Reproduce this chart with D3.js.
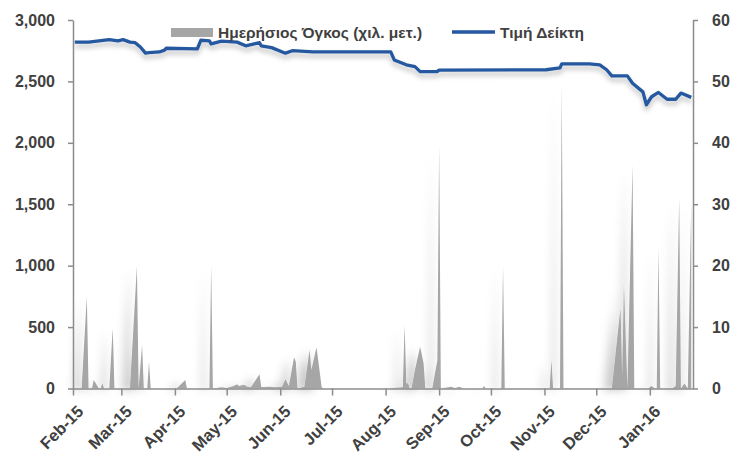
<!DOCTYPE html>
<html>
<head>
<meta charset="utf-8">
<script src="https://cdn.jsdelivr.net/npm/d3@7"></script>
<style>
  body { margin: 0; background: #fff; }
  text { font-family: "Liberation Sans", Arial, sans-serif; font-weight: 700; fill: #404040; }
</style>
</head>
<body>
<div id="vis"></div>
<script>
// Frame and margins
const FRAME_WIDTH = 734;
const FRAME_HEIGHT = 457;
const MARGINS = {left: 73, right: 41, top: 20, bottom: 68.5};
const VIS_WIDTH = FRAME_WIDTH - MARGINS.left - MARGINS.right;
const VIS_HEIGHT = FRAME_HEIGHT - MARGINS.top - MARGINS.bottom;

// Daily volume (thousand shares) - left axis
const VOL_DATES = ["2015-02-02","2015-02-06","2015-02-09","2015-02-10","2015-02-12","2015-02-13","2015-02-16",
  "2015-02-17","2015-02-18","2015-02-19","2015-02-22","2015-02-24","2015-02-25","2015-03-06","2015-03-10",
  "2015-03-11","2015-03-13","2015-03-14","2015-03-16","2015-03-17","2015-03-18","2015-04-02","2015-04-07",
  "2015-04-08","2015-04-21","2015-04-22","2015-04-23","2015-04-28","2015-05-01","2015-05-05","2015-05-07",
  "2015-05-08","2015-05-11","2015-05-13","2015-05-15","2015-05-20","2015-05-21","2015-05-22","2015-05-26",
  "2015-05-29","2015-06-02","2015-06-04","2015-06-06","2015-06-09","2015-06-10","2015-06-11","2015-06-15",
  "2015-06-18","2015-06-19","2015-06-22","2015-06-25","2015-06-26","2015-08-03","2015-08-05","2015-08-09",
  "2015-08-11","2015-08-12","2015-08-13","2015-08-14","2015-08-15","2015-08-16","2015-08-18","2015-08-21",
  "2015-08-23","2015-08-24","2015-08-28","2015-08-31","2015-09-01","2015-09-02","2015-09-08","2015-09-10",
  "2015-09-13","2015-09-15","2015-09-26","2015-09-27","2015-09-28","2015-10-07","2015-10-08","2015-10-09",
  "2015-11-04","2015-11-05","2015-11-06","2015-11-10","2015-11-11","2015-11-12","2015-12-10","2015-12-15",
  "2015-12-16","2015-12-17","2015-12-19","2015-12-22","2015-12-23","2015-12-31","2016-01-02","2016-01-04",
  "2016-01-05","2016-01-06","2016-01-07","2016-01-14","2016-01-16","2016-01-18","2016-01-19","2016-01-21",
  "2016-01-23","2016-01-25"];
const VOL_VALUES = [0,0,750,0,0,70,0,
  0,42,0,0,490,0,0,995,
  0,355,0,0,218,0,0,70,
  0,0,1000,0,10,5,20,35,
  20,30,15,10,115,10,12,15,
  10,15,75,20,254,218,0,15,
  315,150,335,10,0,0,5,8,
  10,517,40,42,0,0,150,340,
  205,0,0,232,1985,0,15,5,
  15,0,0,20,0,0,995,0,
  0,232,0,0,2470,0,0,653,
  100,857,0,1822,0,0,20,0,
  0,1142,0,0,20,1550,0,40,
  0,1510];

// Index price - right axis
const IDX_DATES = ["2015-02-02","2015-02-10","2015-02-16","2015-02-22","2015-02-27","2015-03-02","2015-03-06",
  "2015-03-09","2015-03-12","2015-03-15","2015-03-17","2015-03-23","2015-03-26","2015-03-27","2015-04-14",
  "2015-04-16","2015-04-21","2015-04-22","2015-04-28","2015-05-07","2015-05-12","2015-05-20","2015-05-21",
  "2015-05-27","2015-06-04","2015-06-08","2015-06-20","2015-08-01","2015-08-04","2015-08-06","2015-08-13",
  "2015-08-18","2015-08-21","2015-08-31","2015-09-01","2015-11-02","2015-11-10","2015-11-11","2015-11-27",
  "2015-12-03","2015-12-07","2015-12-10","2015-12-19","2015-12-22","2015-12-28","2015-12-30","2016-01-02",
  "2016-01-06","2016-01-11","2016-01-16","2016-01-19","2016-01-25"];
const IDX_VALUES = [56.4,56.4,56.6,56.8,56.6,56.8,56.4,
  56.3,55.6,54.6,54.7,54.8,55.1,55.4,55.3,
  56.7,56.6,56.1,56.55,56.4,55.8,56.3,55.8,
  55.5,54.6,55.0,54.8,54.8,54.8,53.5,52.7,
  52.4,51.6,51.6,51.85,51.9,52.2,52.85,52.85,
  52.7,51.9,50.9,50.9,49.7,48.3,46.2,47.5,
  48.2,47.1,47.1,48.1,47.4];

// Axis ticks and labels
const MONTH_TICKS = ["2015-02-01","2015-03-01","2015-04-01","2015-05-01","2015-06-01","2015-07-01",
  "2015-08-01","2015-09-01","2015-10-01","2015-11-01","2015-12-01","2016-01-01"];
const LEFT_TICKS = [0, 500, 1000, 1500, 2000, 2500, 3000];
const RIGHT_TICKS = [0, 10, 20, 30, 40, 50, 60];
const LEGEND_LABELS = ["Ημερήσιος Όγκος (χιλ. μετ.)", "Τιμή Δείκτη"];

const parseDate = d3.timeParse("%Y-%m-%d");
const volData = VOL_DATES.map((d, i) => ({date: parseDate(d), value: VOL_VALUES[i]}));
const idxData = IDX_DATES.map((d, i) => ({date: parseDate(d), value: IDX_VALUES[i]}));

const FRAME = d3.select("#vis")
  .append("svg")
    .attr("width", FRAME_WIDTH)
    .attr("height", FRAME_HEIGHT);

// Shadow filters (Excel-like soft shadows)
const defs = FRAME.append("defs");
defs.append("filter").attr("id", "areaShadow")
    .attr("x", "-50%").attr("y", "-10%").attr("width", "200%").attr("height", "120%")
  .append("feDropShadow")
    .attr("dx", -8).attr("dy", 2).attr("stdDeviation", 4)
    .attr("flood-color", "#000").attr("flood-opacity", 0.2);
defs.append("filter").attr("id", "lineShadow")
    .attr("x", "-5%").attr("y", "-50%").attr("width", "110%").attr("height", "200%")
  .append("feDropShadow")
    .attr("dx", 0).attr("dy", 4).attr("stdDeviation", 2.5)
    .attr("flood-color", "#000").attr("flood-opacity", 0.25);

// Scales
const X_SCALE = d3.scaleTime()
  .domain([parseDate("2015-02-01"), parseDate("2016-01-26")])
  .range([0, VIS_WIDTH]);
const Y_LEFT = d3.scaleLinear().domain([0, 3000]).range([VIS_HEIGHT, 0]);
const Y_RIGHT = d3.scaleLinear().domain([0, 60]).range([VIS_HEIGHT, 0]);

const G = FRAME.append("g")
  .attr("transform", "translate(" + MARGINS.left + "," + MARGINS.top + ")");

// Volume area
const area = d3.area()
  .x((d) => X_SCALE(d.date))
  .y0(VIS_HEIGHT)
  .y1((d) => Y_LEFT(d.value));
G.append("path")
  .datum(volData)
  .attr("d", area)
  .attr("fill", "#a6a6a6")
  .attr("filter", "url(#areaShadow)");

// Index line
const line = d3.line()
  .x((d) => X_SCALE(d.date))
  .y((d) => Y_RIGHT(d.value));
G.append("path")
  .datum(idxData)
  .attr("d", line)
  .attr("fill", "none")
  .attr("stroke", "#2558a0")
  .attr("stroke-width", 3.3)
  .attr("stroke-linejoin", "round")
  .attr("filter", "url(#lineShadow)");

// Axes
const AXIS_COLOR = "#8c8c8c";
function styleAxis(g, size) {
  g.selectAll(".domain").attr("stroke", AXIS_COLOR).attr("stroke-width", 1.5);
  g.selectAll(".tick line").attr("stroke", AXIS_COLOR).attr("stroke-width", 1.5);
  g.selectAll(".tick text").attr("fill", "#404040")
    .style("font-family", "'Liberation Sans', Arial, sans-serif")
    .style("font-weight", "700").style("font-size", size + "px");
}

G.append("g")
  .call(d3.axisLeft(Y_LEFT).tickValues(LEFT_TICKS).tickFormat(d3.format(",")).tickSize(5).tickSizeOuter(0).tickPadding(13))
  .call(styleAxis, 16);

G.append("g")
  .attr("transform", "translate(" + VIS_WIDTH + ",0)")
  .call(d3.axisRight(Y_RIGHT).tickValues(RIGHT_TICKS).tickSize(5).tickSizeOuter(0).tickPadding(14))
  .call(styleAxis, 16);

const xAxis = G.append("g")
  .attr("transform", "translate(0," + VIS_HEIGHT + ")")
  .call(d3.axisBottom(X_SCALE).tickValues(MONTH_TICKS.map(parseDate))
    .tickFormat(d3.timeFormat("%b-%y")).tickSize(7).tickSizeOuter(0))
  .call(styleAxis, 16.5);
xAxis.selectAll(".tick text")
  .attr("text-anchor", "end")
  .attr("dy", 0)
  .attr("transform", "translate(4,17) rotate(-45)");

// Legend
const LEG = FRAME.append("g");
LEG.append("rect")
  .attr("x", 171).attr("y", 28).attr("width", 42).attr("height", 9)
  .attr("fill", "#a6a6a6");
LEG.append("text")
  .attr("x", 218).attr("y", 37.5)
  .style("font-size", "15.5px")
  .text(LEGEND_LABELS[0]);
LEG.append("line")
  .attr("x1", 452).attr("x2", 495).attr("y1", 32).attr("y2", 32)
  .attr("stroke", "#2558a0").attr("stroke-width", 3.3);
LEG.append("text")
  .attr("x", 500).attr("y", 37.5)
  .style("font-size", "15.5px")
  .text(LEGEND_LABELS[1]);
</script>
</body>
</html>
